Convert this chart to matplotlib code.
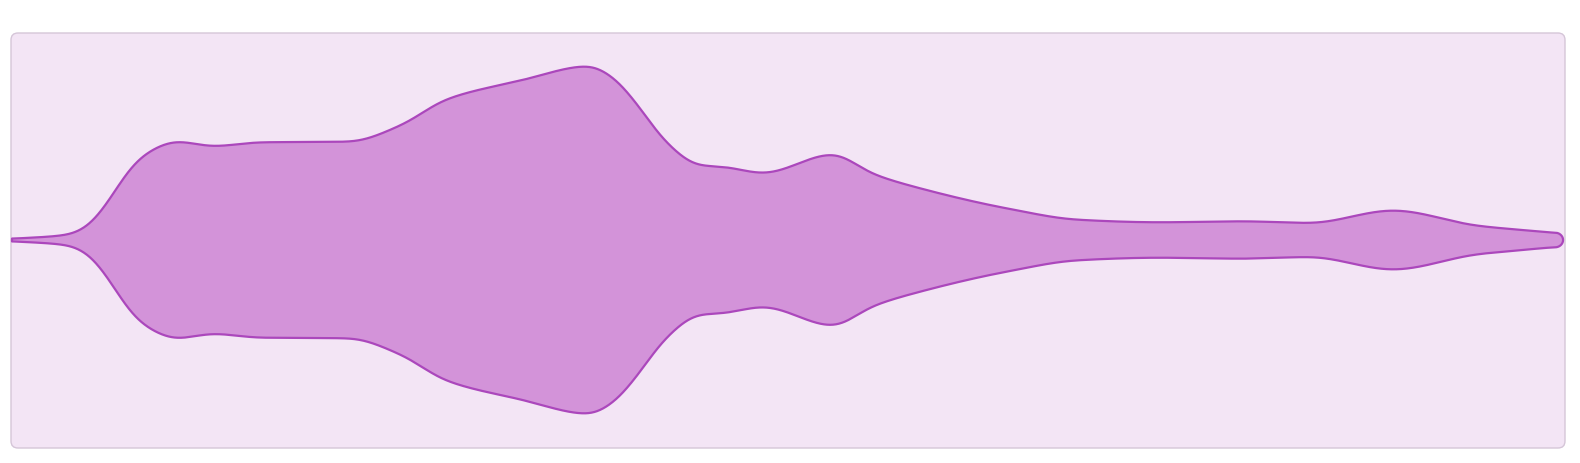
import numpy as np
import matplotlib
matplotlib.use("Agg")
import matplotlib.pyplot as plt
from matplotlib.patches import FancyBboxPatch

# ---- data ----
t = [0, 58, 76, 98, 115, 133, 165, 201, 248, 338, 388, 435, 508, 578, 601,
     628, 651, 688, 711, 751, 821, 861, 908, 998, 1065, 1148, 1231, 1298,
     1381, 1465, 1518, 1543]
width = [2.4, 11, 28, 82, 135.4, 172, 197.4, 187.4, 195.4, 196.6, 228.6, 282,
         318.6, 348.4, 325.4, 264, 202, 148.6, 146.6, 133.4, 172, 132, 103.4,
         62, 40.6, 35.4, 37.4, 34, 59.4, 28.6, 18.6, 14]

FILL = "#d393d9"
EDGE = "#ab47bc"
PANEL = "#f3e5f5"
PANEL_EDGE = "#d5c6d8"


def pchip(x, y, xi):
    x = np.asarray(x, float)
    y = np.asarray(y, float)
    n = len(x)
    hk = np.diff(x)
    dk = np.diff(y) / hk
    d = np.zeros(n)
    for k in range(1, n - 1):
        if dk[k - 1] * dk[k] > 0:
            w1 = 2 * hk[k] + hk[k - 1]
            w2 = hk[k] + 2 * hk[k - 1]
            d[k] = (w1 + w2) / (w1 / dk[k - 1] + w2 / dk[k])
    d[0] = dk[0]
    d[-1] = dk[-1]
    idx = np.clip(np.searchsorted(x, xi) - 1, 0, n - 2)
    h = hk[idx]
    s = (xi - x[idx]) / h
    h00 = 2 * s**3 - 3 * s**2 + 1
    h10 = s**3 - 2 * s**2 + s
    h01 = -2 * s**3 + 3 * s**2
    h11 = s**3 - s**2
    return h00 * y[idx] + h10 * h * d[idx] + h01 * y[idx + 1] + h11 * h * d[idx + 1]


def soften(y, step, sigma):
    # gentle gaussian smoothing of the rendered outline (visual only)
    k = int(4 * sigma / step)
    g = np.exp(-0.5 * (np.arange(-k, k + 1) * step / sigma) ** 2)
    g /= g.sum()
    pad = np.concatenate([np.full(k, y[0]), y, np.full(k, y[-1])])
    return np.convolve(pad, g, mode="valid")


tt = np.linspace(t[0], t[-1], 3087)
step = tt[1] - tt[0]
half = soften(pchip(t, width, tt), step, 9.0) / 2.0

# rounded cap at the right end
r = half[-1]
ang = np.linspace(np.pi / 2, -np.pi / 2, 60)
cap_x = t[-1] + 1.1 * r * np.cos(ang)
cap_y = r * np.sin(ang)

xs = np.concatenate([tt, cap_x, tt[::-1]])
ys = np.concatenate([half, cap_y, -half[::-1]])

fig = plt.figure(figsize=(15.8, 4.64), dpi=100)
fig.patch.set_facecolor("white")
ax = fig.add_axes([0, 0, 1, 1])
ax.set_xlim(-12, 1568)
ax.set_ylim(-223, 241)
ax.axis("off")

panel = FancyBboxPatch((-1, -208), 1554, 415,
                       boxstyle="round,pad=0,rounding_size=7",
                       facecolor=PANEL, edgecolor=PANEL_EDGE, linewidth=1.0,
                       zorder=0)
ax.add_patch(panel)

ax.fill(xs, ys, facecolor=FILL, edgecolor="none", zorder=2)
ax.plot(xs, ys, color=EDGE, linewidth=1.6, solid_joinstyle="round",
        solid_capstyle="round", zorder=3)
ax.plot([xs[-1], xs[0]], [ys[-1], ys[0]], color=EDGE, linewidth=1.6,
        solid_capstyle="round", zorder=3)

fig.savefig("out.png", dpi=100, facecolor="white")
